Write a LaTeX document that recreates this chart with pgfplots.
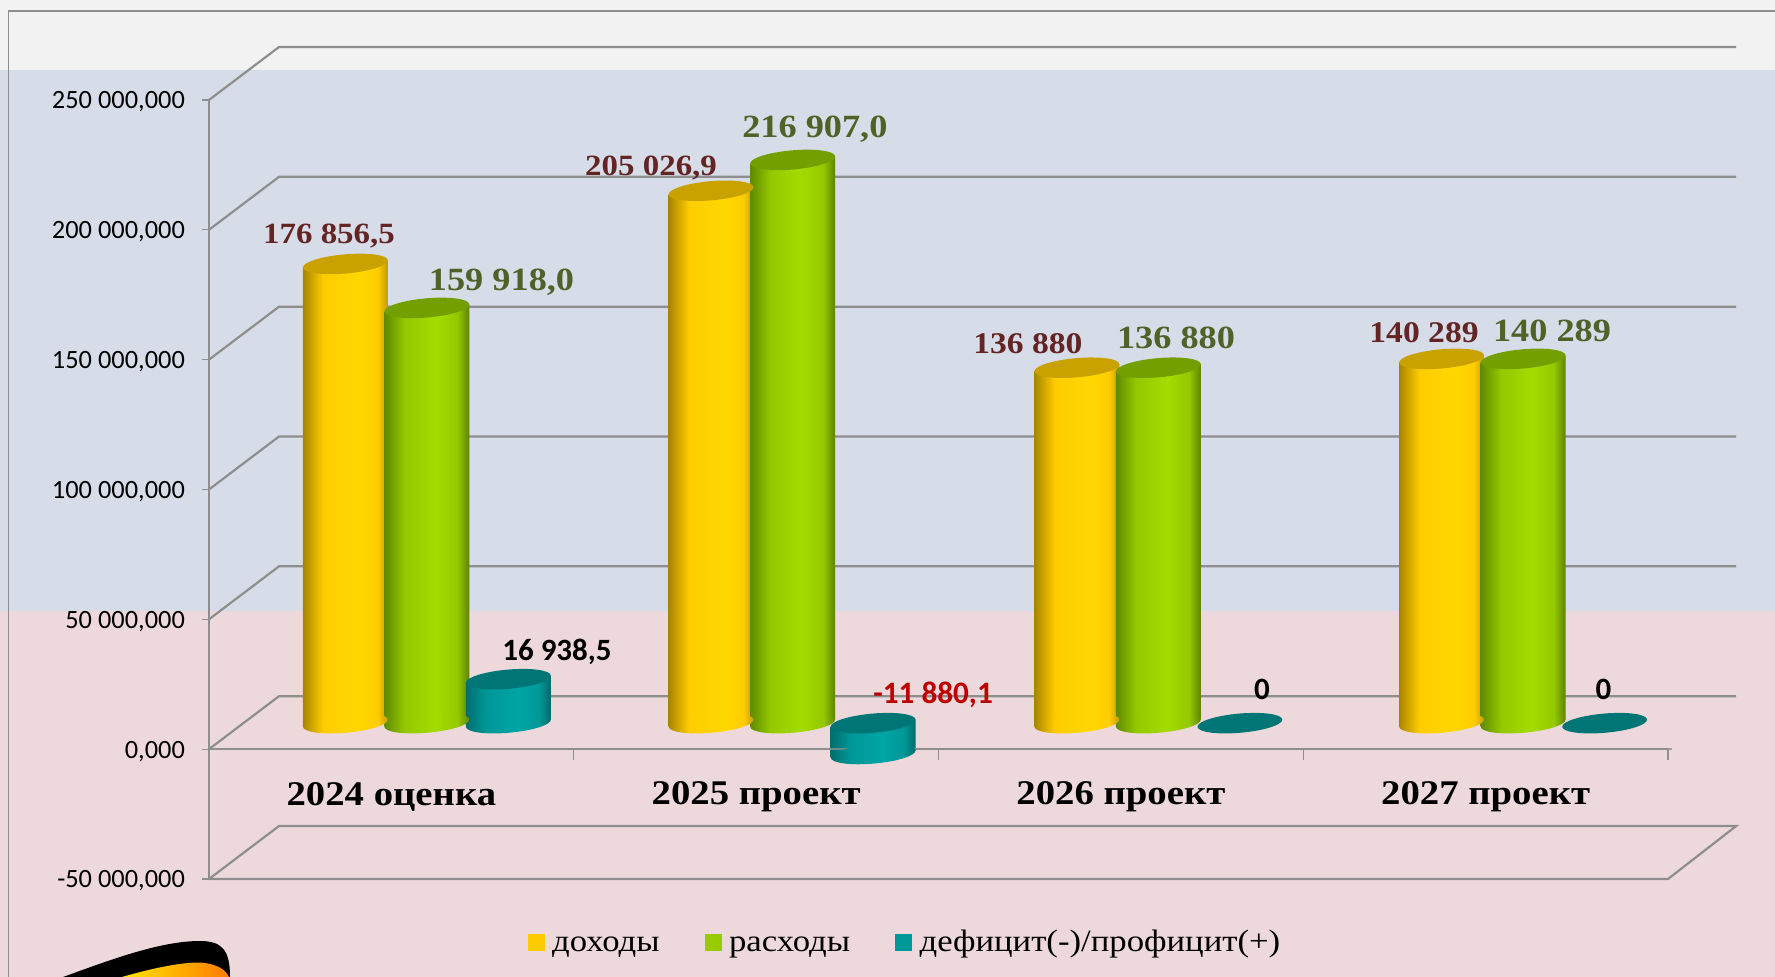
\documentclass[border=0pt]{standalone}
\usepackage{fontspec}
\setmainfont{Liberation Serif}
\newfontfamily\camb[FakeStretch=1.12]{Liberation Serif}
\newfontfamily\calibri{Carlito}
\usepackage{pgfplots}
\pgfplotsset{compat=1.18}

\definecolor{gridc}{HTML}{8E8E8E}
\definecolor{bandtop}{HTML}{F2F2F2}
\definecolor{bandblue}{HTML}{D6DDE8}
\definecolor{bandpink}{HTML}{EDD9DB}
\definecolor{labred}{HTML}{632423}
\definecolor{labgreen}{HTML}{4F6228}
\definecolor{capY}{HTML}{C9A200}
\definecolor{capG}{HTML}{749F00}
\definecolor{capT}{HTML}{007575}
\definecolor{legY}{HTML}{FFCC00}
\definecolor{legG}{HTML}{99CC00}
\definecolor{legT}{HTML}{009999}
\definecolor{yA}{HTML}{A88500}
\definecolor{yB}{HTML}{FFCC00}
\definecolor{yC}{HTML}{FFD800}
\definecolor{yD}{HTML}{BF9A00}
\definecolor{gA}{HTML}{5F8A00}
\definecolor{gB}{HTML}{94C800}
\definecolor{gC}{HTML}{A3DC00}
\definecolor{gD}{HTML}{5E8200}
\definecolor{tA}{HTML}{006F6F}
\definecolor{tB}{HTML}{009797}
\definecolor{tC}{HTML}{00A5A5}
\definecolor{tD}{HTML}{006A6A}

% pgf maps the path's box onto 25bp..75bp of the shading
\pgfdeclarehorizontalshading{cylY}{100bp}{color(0bp)=(yA); color(25bp)=(yA);
  color(37bp)=(yB); color(58bp)=(yC); color(69bp)=(yB); color(75bp)=(yD); color(100bp)=(yD)}
\pgfdeclarehorizontalshading{cylG}{100bp}{color(0bp)=(gA); color(25bp)=(gA);
  color(37bp)=(gB); color(55bp)=(gC); color(68bp)=(gB); color(75bp)=(gD); color(100bp)=(gD)}
\pgfdeclarehorizontalshading{cylT}{100bp}{color(0bp)=(tA); color(25bp)=(tA);
  color(37bp)=(tB); color(56bp)=(tC); color(68bp)=(tB); color(75bp)=(tD); color(100bp)=(tD)}

\newcommand\elpath{\pgftransformrotate{5}\pgfpathellipse{\pgfpointorigin}{\pgfqpoint{21.3pt}{0pt}}{\pgfqpoint{0pt}{4.8pt}}}
\pgfdeclareplotmark{baseY}{\elpath\pgfshadepath{cylY}{0}\pgfusepath{discard}}
\pgfdeclareplotmark{baseG}{\elpath\pgfshadepath{cylG}{0}\pgfusepath{discard}}
\pgfdeclareplotmark{baseT}{\elpath\pgfshadepath{cylT}{0}\pgfusepath{discard}}
\pgfdeclareplotmark{capY}{\elpath\pgfsetfillcolor{capY}\pgfusepath{fill}}
\pgfdeclareplotmark{capG}{\elpath\pgfsetfillcolor{capG}\pgfusepath{fill}}
\pgfdeclareplotmark{capT}{\elpath\pgfsetfillcolor{capT}\pgfusepath{fill}}

\pgfplotsset{
  wall/.style={gridc,line width=1.1pt,forget plot},
}
\tikzset{lab/.style={yshift=-1pt}}
% one cylinder: series, shift to its place in the group, category, low value, high value
% the side is sheared by 1348 units so that it meets the tilted ellipses at their ends
\newcommand\cyl[5]{%
  \begingroup
  \pgfkeys{/pgf/fpu=true,/pgf/fpu/output format=fixed}%
  \pgfmathparse{#4-1348}\xdef\loL{\pgfmathresult}%
  \pgfmathparse{#4+1348}\xdef\loR{\pgfmathresult}%
  \pgfmathparse{#5-1348}\xdef\hiL{\pgfmathresult}%
  \pgfmathparse{#5+1348}\xdef\hiR{\pgfmathresult}%
  \endgroup
  \pgfmathsetmacro\xL{#3-0.1165}\pgfmathsetmacro\xR{#3+0.1165}%
  \addplot[only marks,mark=base#1,forget plot,xshift=#2,yshift=13pt] coordinates {(#3,#4)};
  \addplot[draw=none,shade,shading=cyl#1,forget plot,xshift=#2,yshift=13pt]
    coordinates {(\xL,\loL) (\xR,\loR) (\xR,\hiR) (\xL,\hiL)} -- cycle;
  \addplot[only marks,mark=cap#1,forget plot,xshift=#2,yshift=13pt] coordinates {(#3,#5)};
}
\newcommand\rust[1]{\fontsize{#1}{#1}\selectfont\camb\bfseries\color{labred}}
\newcommand\olive[1]{\fontsize{#1}{#1}\selectfont\camb\bfseries\color{labgreen}}

\begin{document}
\begin{tikzpicture}
\useasboundingbox (0,0) rectangle (887.5pt,488.5pt);
\begin{scope}[x=0.5pt,y=-0.5pt,yshift=488.5pt]
  \fill[bandtop] (0,0) rectangle (1775,70);
  \fill[bandblue] (0,70) rectangle (1775,611);
  \fill[bandpink] (0,611) rectangle (1775,977);
  \draw[gridc,line width=0.8pt] (8.5,977) -- (8.5,11) -- (1775,11);
  \fill[black] (63,977) .. controls (110,960) and (160,941) .. (200,941)
     .. controls (222,941) and (230,950) .. (230,977) -- cycle;
  \shade[left color=yellow!80!orange,right color=orange!85!red!90!yellow]
     (122,977) .. controls (160,966) and (190,961) .. (205,963)
     .. controls (218,965) and (226,970) .. (229,977) -- cycle;
\end{scope}
\begin{axis}[
  at={(104.5pt,49pt)},anchor=south west,
  scale only axis,width=729.5pt,height=389.5pt,
  xmin=-0.5,xmax=3.5,ymin=-50000,ymax=250000,
  clip=false,
  axis x line=middle,axis y line=left,
  axis line style={-,gridc,line width=1.1pt},
  xtick={0,1,2,3},
  xticklabels={2024 оценка,2025 проект,2026 проект,2027 проект},
  minor xtick={-0.5,0.5,1.5,2.5,3.5},
  major x tick style={draw=none},
  minor x tick style={gridc,line width=0.6pt},
  minor tick length=5.5pt,
  xticklabel style={anchor=center,yshift=-20.5pt,
    font=\fontsize{17.3}{18}\selectfont\camb\bfseries},
  ytick={-50000,0,50000,100000,150000,200000,250000},
  yticklabels={{-50 000,000},{0,000},{50 000,000},{100 000,000},{150 000,000},{200 000,000},{250 000,000}},
  scaled y ticks=false,
  y tick style={gridc,line width=0.6pt},
  major tick length=3.5pt,
  tick align=outside,
  yticklabel style={font=\fontsize{13.2}{14}\selectfont\calibri,xshift=-5pt,yshift=-1pt},
  legend style={at={(0.4777,-0.0809)},anchor=center,draw=none,fill=none,
    legend columns=3,legend cell align=left,
    font=\fontsize{15.5}{16}\selectfont\camb,
    /tikz/every odd column/.append style={column sep=1.7pt},
    /tikz/every even column/.append style={column sep=20.5pt}},
  legend image code/.code={\fill[#1,draw=none] (0pt,-4.25pt) rectangle (8.5pt,4.25pt);},
]
% back walls: depth is 0.192 categories and 20411 units up
\addplot[wall] coordinates {(-0.5,250000) (-0.308,270411) (3.687,270411)};
\addplot[wall] coordinates {(-0.5,200000) (-0.308,220411) (3.687,220411)};
\addplot[wall] coordinates {(-0.5,150000) (-0.308,170411) (3.687,170411)};
\addplot[wall] coordinates {(-0.5,100000) (-0.308,120411) (3.687,120411)};
\addplot[wall] coordinates {(-0.5,50000) (-0.308,70411) (3.687,70411)};
\addplot[wall] coordinates {(-0.5,0) (-0.308,20411) (3.687,20411)};
\addplot[wall] coordinates {(-0.5,-50000) (-0.308,-29589) (3.687,-29589) (3.5,-50000) (-0.5,-50000)};

% доходы, расходы, дефицит/профицит
\cyl{Y}{-23pt}{0}{0}{176856.5}
\cyl{G}{17.75pt}{0}{0}{159918.0}
\cyl{T}{58.5pt}{0}{0}{16938.5}
\cyl{Y}{-22.5pt}{1}{0}{205026.9}
\cyl{G}{18.25pt}{1}{0}{216907.0}
\cyl{T}{58.5pt}{1}{-11880.1}{0}
\cyl{Y}{-22pt}{2}{0}{136880}
\cyl{G}{18.75pt}{2}{0}{136880}
\addplot[only marks,mark=capT,forget plot,xshift=59.5pt,yshift=13pt] coordinates {(2,0)};
\cyl{Y}{-22pt}{3}{0}{140289}
\cyl{G}{18.75pt}{3}{0}{140289}
\addplot[only marks,mark=capT,forget plot,xshift=59.5pt,yshift=13pt] coordinates {(3,0)};

\addplot[gridc,line width=1.1pt,opacity=0.8,forget plot] coordinates {(-0.5,0) (3.51,0)};

\node[lab,font=\rust{14.7}] at (axis cs:-0.171,198400) {176 856,5};
\node[lab,font=\olive{16.2}] at (axis cs:0.302,180700) {159 918,0};
\node[lab,font=\rust{14.7}] at (axis cs:0.712,224600) {205 026,9};
\node[lab,font=\olive{16.2}] at (axis cs:1.161,239600) {216 907,0};
\node[lab,font=\rust{15}] at (axis cs:1.745,156800) {136 880};
\node[lab,font=\olive{16.2}] at (axis cs:2.151,159100) {136 880};
\node[lab,font=\rust{15}] at (axis cs:2.831,161000) {140 289};
\node[lab,font=\olive{16.2}] at (axis cs:3.182,161800) {140 289};
\node[lab,font=\fontsize{15.5}{16}\selectfont\calibri\bfseries] at (axis cs:0.454,38200) {16 938,5};
\node[lab,font=\fontsize{15.6}{16}\selectfont\calibri\bfseries,text={red!75!black}] at (axis cs:1.485,21600) {-11 880,1};
\node[lab,font=\fontsize{15.5}{16}\selectfont\calibri\bfseries] at (axis cs:2.387,23600) {0};
\node[lab,font=\fontsize{15.5}{16}\selectfont\calibri\bfseries] at (axis cs:3.323,23600) {0};

\addlegendimage{fill=legY}
\addlegendentry{\strut доходы}
\addlegendimage{fill=legG}
\addlegendentry{\strut расходы}
\addlegendimage{fill=legT}
\addlegendentry{\strut дефицит(-)/профицит(+)}
\end{axis}
\end{tikzpicture}
\end{document}
